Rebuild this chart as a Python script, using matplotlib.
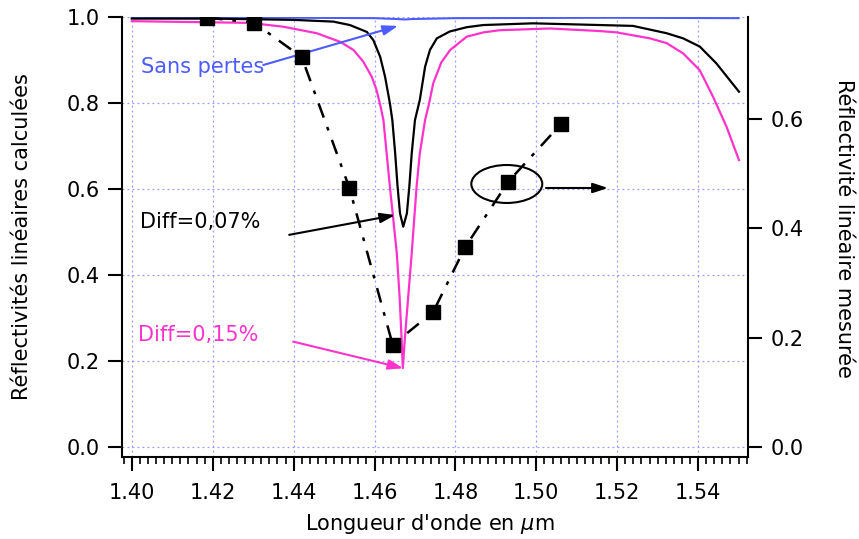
import matplotlib
matplotlib.use('Agg')

import numpy as np
import matplotlib.pyplot as plt
from matplotlib.patches import Ellipse
from matplotlib.ticker import MultipleLocator, FormatStrFormatter

# --- calculated reflectivities (left axis) ---
x_black = [1.400, 1.420, 1.440, 1.4498, 1.4539, 1.4581, 1.4597, 1.4614, 1.4626, 1.4638,
           1.4644, 1.4651, 1.4657, 1.4663, 1.4671, 1.4680, 1.4686, 1.4692, 1.4700,
           1.4712, 1.4725, 1.4737, 1.4754, 1.4786, 1.4828, 1.4869, 1.4992, 1.5157,
           1.5239, 1.5322, 1.5363, 1.5404, 1.5445, 1.5478, 1.5501]
y_black = [0.997, 0.997, 0.994, 0.990, 0.982, 0.966, 0.947, 0.908, 0.862, 0.800,
           0.761, 0.684, 0.606, 0.544, 0.513, 0.544, 0.606, 0.684, 0.761,
           0.808, 0.885, 0.924, 0.951, 0.967, 0.977, 0.982, 0.986, 0.982,
           0.980, 0.963, 0.951, 0.932, 0.893, 0.854, 0.827]

x_pink = [1.400, 1.4292, 1.4375, 1.4457, 1.4515, 1.4548, 1.4572, 1.4593, 1.4605, 1.4615,
          1.4622, 1.4638, 1.4655, 1.4662, 1.4667, 1.4670, 1.4674, 1.4679, 1.4685,
          1.4692, 1.4704, 1.4712, 1.4725, 1.4735, 1.4745, 1.4765, 1.4787, 1.4828,
          1.4870, 1.4910, 1.5034, 1.5157, 1.5198, 1.5281, 1.5322, 1.5363, 1.5404,
          1.5437, 1.5470, 1.5501]
y_pink = [0.991, 0.987, 0.978, 0.963, 0.943, 0.924, 0.897, 0.862, 0.831, 0.792,
          0.761, 0.606, 0.452, 0.350, 0.250, 0.184, 0.240, 0.300, 0.370,
          0.452, 0.606, 0.684, 0.761, 0.800, 0.846, 0.895, 0.924, 0.955,
          0.965, 0.970, 0.974, 0.968, 0.965, 0.951, 0.940, 0.916, 0.877,
          0.815, 0.746, 0.668]

x_blue = [1.400, 1.440, 1.460, 1.4655, 1.4675, 1.4695, 1.480, 1.520, 1.550]
y_blue = [0.999, 0.999, 0.998, 0.996, 0.995, 0.996, 0.998, 0.999, 0.998]

# --- measured reflectivity (right axis) ---
x_meas = [1.4187, 1.4302, 1.4420, 1.4538, 1.4645, 1.4745, 1.4824, 1.4931, 1.5061]
y_meas = [0.784, 0.775, 0.712, 0.473, 0.187, 0.247, 0.365, 0.485, 0.590]

pink = '#ff33cc'
blue = '#4d5cff'

plt.rcParams['font.family'] = ['DejaVu Sans']
fig = plt.figure(figsize=(8.59, 5.39), dpi=100)
ax = fig.add_axes([0.1417, 0.1527, 0.7294, 0.8152])

ax.plot(x_blue, y_blue, color=blue, lw=1.5)
ax.plot(x_black, y_black, color='black', lw=1.6)
ax.plot(x_pink, y_pink, color=pink, lw=1.6)

ax.set_xlim(1.3975, 1.5524)
ax.set_ylim(-0.022, 1.0)
ax.xaxis.set_major_locator(MultipleLocator(0.02))
ax.xaxis.set_minor_locator(MultipleLocator(0.002))
ax.xaxis.set_major_formatter(FormatStrFormatter('%.2f'))
ax.yaxis.set_major_locator(MultipleLocator(0.2))
ax.yaxis.set_major_formatter(FormatStrFormatter('%.1f'))
ax.grid(True, which='major', color='#9999ff', linestyle=(0, (1.5, 2.5)), lw=0.9)
ax.tick_params(axis='both', which='major', length=10, width=1.5, labelsize=15, pad=6)
ax.tick_params(axis='x', which='major', pad=9)
ax.tick_params(axis='x', which='minor', length=5, width=1.2)
ax.spines['top'].set_visible(False)
ax.spines['right'].set_visible(False)
for s in ['left', 'bottom']:
    ax.spines[s].set_linewidth(1.5)

ax.set_xlabel("Longueur d'onde en $\\mu$m", fontsize=15)
ax.xaxis.set_label_coords(0.492, -0.126)
ax.set_ylabel("Réflectivités linéaires calculées", fontsize=15)
ax.yaxis.set_label_coords(-0.143, 0.5)

ax2 = ax.twinx()
ax2.plot(x_meas, y_meas, color='black', lw=1.8, linestyle=(0, (6, 4, 1.5, 4)),
         marker='s', markersize=9.5)
ax2.set_ylim(-0.0172, 0.7847)
ax2.yaxis.set_major_locator(MultipleLocator(0.2))
ax2.yaxis.set_major_formatter(FormatStrFormatter('%.1f'))
ax2.tick_params(axis='y', which='major', length=10, width=1.5, labelsize=15, pad=6)
ax2.spines['top'].set_visible(False)
ax2.spines['left'].set_visible(False)
ax2.spines['bottom'].set_visible(False)
ax2.spines['right'].set_linewidth(1.5)
ax2.set_ylabel("Réflectivité linéaire mesurée", fontsize=15, rotation=-90, va='bottom')
ax2.yaxis.set_label_coords(1.137, 0.52)

arrow = dict(arrowstyle='-|>,head_length=0.9,head_width=0.3', lw=1.5, shrinkA=0, shrinkB=0)

ax.annotate('', xy=(1.4658, 0.980), xytext=(1.4325, 0.889),
            arrowprops=dict(arrow, color=blue))
ax.text(1.4022, 0.884, 'Sans pertes', fontsize=15, color=blue, va='center', ha='left')

ax.annotate('', xy=(1.4651, 0.540), xytext=(1.4389, 0.494),
            arrowprops=dict(arrow, color='black'))
ax.text(1.4021, 0.525, 'Diff=0,07%', fontsize=15, color='black', va='center', ha='left')

ax.annotate('', xy=(1.4671, 0.1837), xytext=(1.4399, 0.2456),
            arrowprops=dict(arrow, color=pink))
ax.text(1.4015, 0.261, 'Diff=0,15%', fontsize=15, color=pink, va='center', ha='left')

ax2.add_patch(Ellipse((1.4927, 0.4805), 0.01754, 0.0693, fill=False, lw=1.5,
                      edgecolor='black', zorder=5))
ax2.annotate('', xy=(1.5177, 0.4732), xytext=(1.5024, 0.4732),
             arrowprops=dict(arrow, color='black'))

fig.savefig('out.png', dpi=100)
